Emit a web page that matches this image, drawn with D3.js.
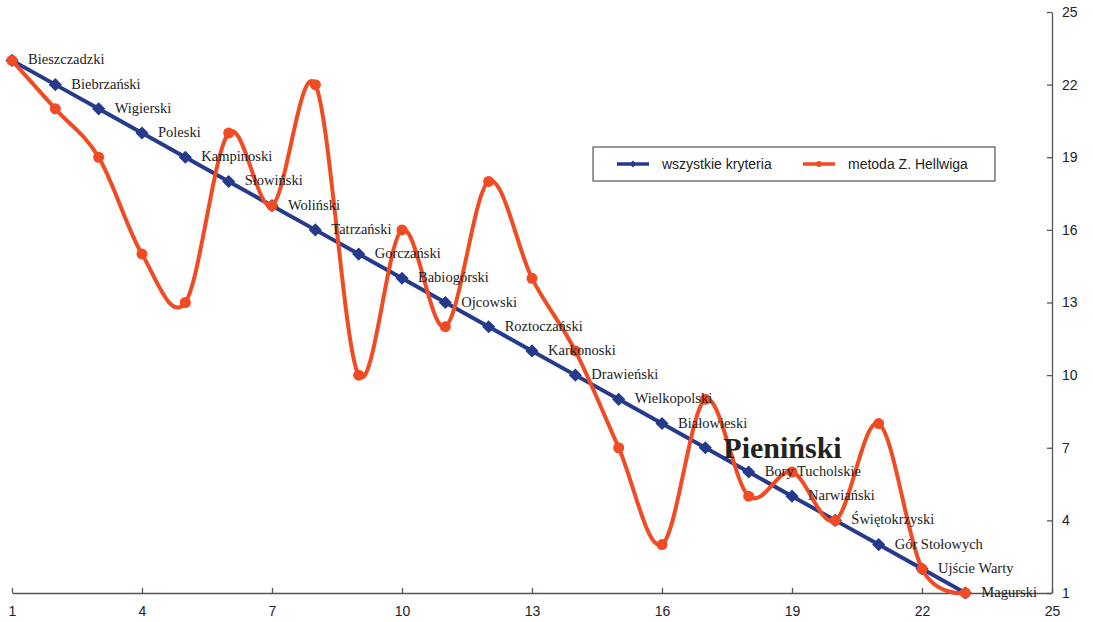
<!DOCTYPE html>
<html>
<head>
<meta charset="utf-8">
<script src="https://cdn.jsdelivr.net/npm/d3@7"></script>
<style>
  body { margin: 0; background: #fff; }
  svg { display: block; }
</style>
</head>
<body>
<div id="chart"></div>
<script>
// parki narodowe - ranking
var positions = [1,2,3,4,5,6,7,8,9,10,11,12,13,14,15,16,17,18,19,20,21,22,23];
var parks = ["Bieszczadzki","Biebrzański","Wigierski","Poleski","Kampinoski","Słowiński",
  "Woliński","Tatrzański","Gorczański","Babiogórski","Ojcowski","Roztoczański","Karkonoski",
  "Drawieński","Wielkopolski","Białowieski","Pieniński","Bory Tucholskie","Narwiański",
  "Świętokrzyski","Gór Stołowych","Ujście Warty","Magurski"];
var allCriteria = [23,22,21,20,19,18,17,16,15,14,13,12,11,10,9,8,7,6,5,4,3,2,1];
var hellwig = [23,21,19,15,13,20,17,22,10,16,12,18,14,11,7,3,9,5,6,4,8,2,1];
var ticks = [1,4,7,10,13,16,19,22,25];
var seriesNames = ["wszystkie kryteria", "metoda Z. Hellwiga"];

var width = 1093, height = 622;
var blue = "#263a8c", red = "#f04b23";

var svg = d3.select("#chart").append("svg")
    .attr("width", width).attr("height", height);

var x = d3.scaleLinear().domain([1, 25]).range([12, 1052]);
var y = d3.scaleLinear().domain([1, 25]).range([593, 12]);

// osie
var xAxis = svg.append("g")
    .attr("transform", "translate(0," + y(1) + ")")
    .call(d3.axisBottom(x).tickValues(ticks).tickSizeInner(-5).tickSizeOuter(0).tickPadding(10));
var yAxis = svg.append("g")
    .attr("transform", "translate(" + x(25) + ",0)")
    .call(d3.axisRight(y).tickValues(ticks).tickSizeInner(-5).tickSizeOuter(0).tickPadding(10));

[xAxis, yAxis].forEach(function(a) {
  a.select(".domain").attr("stroke", "#555").attr("stroke-width", 1.3);
  a.selectAll(".tick line").attr("stroke", "#555").attr("stroke-width", 1.3);
  a.selectAll("text").attr("font-family", "Liberation Sans, Arial, sans-serif")
    .attr("font-size", 14).attr("fill", "#222");
});
xAxis.selectAll("text").attr("dy", "0.9em");

var blueData = positions.map(function(p, i) { return {x: p, y: allCriteria[i], name: parks[i]}; });
var redData = positions.map(function(p, i) { return {x: p, y: hellwig[i]}; });

// linia - wszystkie kryteria
svg.append("path")
    .datum(blueData)
    .attr("fill", "none")
    .attr("stroke", blue)
    .attr("stroke-width", 4)
    .attr("d", d3.line().x(function(d) { return x(d.x); }).y(function(d) { return y(d.y); }));

svg.selectAll(".diamond")
    .data(blueData)
    .enter().append("path")
    .attr("class", "diamond")
    .attr("fill", blue)
    .attr("transform", function(d) { return "translate(" + x(d.x) + "," + y(d.y) + ")"; })
    .attr("d", d3.symbol().type(d3.symbolDiamond2).size(110));

// linia - metoda Hellwiga (wygładzona)
svg.append("path")
    .datum(redData)
    .attr("fill", "none")
    .attr("stroke", red)
    .attr("stroke-width", 4)
    .attr("d", d3.line().curve(d3.curveCardinal.tension(0))
      .x(function(d) { return x(d.x); }).y(function(d) { return y(d.y); }));

svg.selectAll(".dot")
    .data(redData)
    .enter().append("circle")
    .attr("class", "dot")
    .attr("fill", red)
    .attr("cx", function(d) { return x(d.x); })
    .attr("cy", function(d) { return y(d.y); })
    .attr("r", 5.5);

// etykiety parkow
svg.selectAll(".lbl")
    .data(blueData)
    .enter().append("text")
    .attr("class", "lbl")
    .attr("x", function(d) { return x(d.x) + (d.name == "Pieniński" ? 18 : 16); })
    .attr("y", function(d) { return y(d.y) + (d.name == "Pieniński" ? 10 : 4); })
    .attr("font-family", "Liberation Serif, Times New Roman, serif")
    .attr("font-size", function(d) { return d.name == "Pieniński" ? 30 : 14.5; })
    .attr("font-weight", function(d) { return d.name == "Pieniński" ? "bold" : "normal"; })
    .attr("fill", "#222")
    .text(function(d) { return d.name; });

// legenda
var legend = svg.append("g").attr("transform", "translate(593,147)");
legend.append("rect")
    .attr("width", 402).attr("height", 34)
    .attr("fill", "#fff").attr("stroke", "#333").attr("stroke-width", 1);
[blue, red].forEach(function(c, i) {
  var g = legend.append("g").attr("transform", "translate(" + (24 + i * 186) + ",17)");
  g.append("line").attr("x1", 0).attr("x2", 32).attr("stroke", c).attr("stroke-width", 3.5);
  if (i == 0) {
    g.append("path").attr("transform", "translate(16,0)").attr("fill", c)
      .attr("d", d3.symbol().type(d3.symbolDiamond2).size(30));
  } else {
    g.append("circle").attr("cx", 16).attr("r", 3).attr("fill", c);
  }
  g.append("text").attr("x", 45).attr("y", 5)
    .attr("font-family", "Liberation Sans, Arial, sans-serif")
    .attr("font-size", 14).attr("fill", "#222")
    .text(seriesNames[i]);
});
</script>
</body>
</html>
